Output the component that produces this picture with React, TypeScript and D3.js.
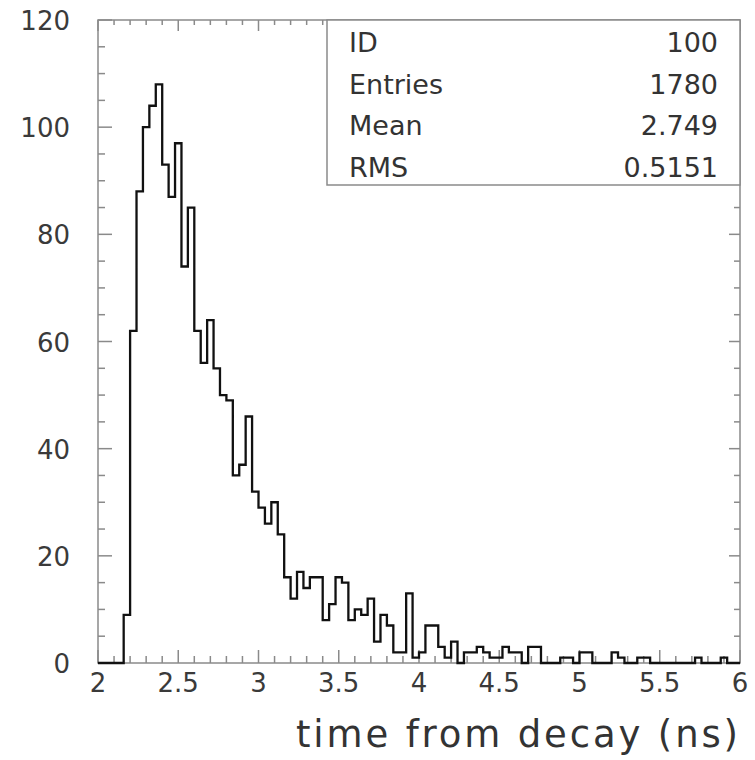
import React, { useEffect, useRef } from 'react';
import * as d3 from 'd3';

// histogram: 100 bins of 0.04 ns from 2 to 6
const binStart = 2;
const binWidth = 0.04;
const counts = [
  0, 0, 0, 0, 9, 62, 88, 100, 104, 108,
  93, 87, 97, 74, 85, 62, 56, 64, 55, 50,
  49, 35, 37, 46, 32, 29, 26, 30, 24, 16,
  12, 17, 14, 16, 16, 8, 11, 16, 15, 8,
  10, 9, 12, 4, 9, 7, 2, 2, 13, 1,
  2, 7, 7, 3, 1, 4, 0, 2, 2, 3,
  2, 1, 1, 3, 2, 2, 0, 3, 3, 0,
  0, 0, 1, 1, 0, 2, 2, 0, 0, 0,
  2, 1, 0, 0, 1, 1, 0, 0, 0, 0,
  0, 0, 0, 1, 0, 0, 0, 1, 0, 0,
];

const xMajorTicks = [2, 2.5, 3, 3.5, 4, 4.5, 5, 5.5, 6];
const yMajorTicks = [0, 20, 40, 60, 80, 100, 120];

const statLabels = ['ID', 'Entries', 'Mean', 'RMS'];
const statValues = ['100', '1780', '2.749', '0.5151'];

const xTitle = 'time from decay (ns)';

const App: React.FC = () => {
  const svgRef = useRef<SVGSVGElement>(null);

  useEffect(() => {
    if (!svgRef.current) return;
    d3.select(svgRef.current).selectAll('*').remove();

    const W = 755;
    const H = 760;
    const left = 98, right = 740, top = 20, bottom = 663;
    const frameColor = '#8a8a8a';
    const font = '"DejaVu Sans", sans-serif';

    const svg = d3.select(svgRef.current)
      .attr('width', W)
      .attr('height', H);

    const x = d3.scaleLinear().domain([2, 6]).range([left, right]);
    const y = d3.scaleLinear().domain([0, 120]).range([bottom, top]);

    // frame
    svg.append('rect')
      .attr('x', left)
      .attr('y', top)
      .attr('width', right - left)
      .attr('height', bottom - top)
      .attr('fill', 'none')
      .attr('stroke', frameColor)
      .attr('stroke-width', 1.5);

    // ticks on all four sides
    const xMinor = d3.range(0, 41).map(i => 2 + i * 0.1);
    const yMinor = d3.range(0, 25).map(i => i * 5);
    const isMajorX = (v: number) => Math.abs(v * 2 - Math.round(v * 2)) < 1e-6;
    const isMajorY = (v: number) => v % 20 === 0;

    const ticks = svg.append('g')
      .attr('stroke', frameColor)
      .attr('stroke-width', 1.5);

    xMinor.forEach(v => {
      const len = isMajorX(v) ? 13 : 7;
      ticks.append('line')
        .attr('x1', x(v)).attr('x2', x(v))
        .attr('y1', bottom).attr('y2', bottom - len);
      ticks.append('line')
        .attr('x1', x(v)).attr('x2', x(v))
        .attr('y1', top).attr('y2', top + (isMajorX(v) ? 11 : 5));
    });

    yMinor.forEach(v => {
      const len = isMajorY(v) ? 14 : 7;
      ticks.append('line')
        .attr('x1', left).attr('x2', left + len)
        .attr('y1', y(v)).attr('y2', y(v));
      ticks.append('line')
        .attr('x1', right).attr('x2', right - (isMajorY(v) ? 11 : 6))
        .attr('y1', y(v)).attr('y2', y(v));
    });

    // tick labels
    svg.append('g')
      .attr('font-family', font)
      .attr('font-size', 26)
      .attr('fill', '#3a3a3a')
      .attr('text-anchor', 'end')
      .selectAll('text')
      .data(yMajorTicks)
      .enter().append('text')
      .attr('x', 70)
      .attr('y', d => y(d) + 10)
      .text(d => d);

    svg.append('g')
      .attr('font-family', font)
      .attr('font-size', 26)
      .attr('fill', '#3a3a3a')
      .attr('text-anchor', 'middle')
      .selectAll('text')
      .data(xMajorTicks)
      .enter().append('text')
      .attr('x', d => x(d))
      .attr('y', 692)
      .text(d => d);

    // axis title
    svg.append('text')
      .attr('x', 738)
      .attr('y', 747)
      .attr('font-family', font)
      .attr('font-size', 37)
      .attr('fill', '#333')
      .attr('text-anchor', 'end')
      .attr('textLength', 442)
      .attr('lengthAdjust', 'spacing')
      .text(xTitle);

    // histogram outline
    const pts: [number, number][] = [[x(binStart), y(0)]];
    counts.forEach((c, i) => {
      const x0 = binStart + i * binWidth;
      pts.push([x(x0), y(c)]);
      pts.push([x(x0 + binWidth), y(c)]);
    });
    pts.push([x(binStart + counts.length * binWidth), y(0)]);

    svg.append('path')
      .attr('d', d3.line()(pts))
      .attr('fill', 'none')
      .attr('stroke', '#111')
      .attr('stroke-width', 2.3)
      .attr('stroke-linejoin', 'miter');

    // stats box
    const boxLeft = 327, boxBottom = 185;
    svg.append('rect')
      .attr('x', boxLeft)
      .attr('y', top)
      .attr('width', right - boxLeft)
      .attr('height', boxBottom - top)
      .attr('fill', 'white')
      .attr('stroke', frameColor)
      .attr('stroke-width', 1.5);

    const rowY = (i: number) => 52 + i * 41.7;
    const stats = svg.append('g')
      .attr('font-family', font)
      .attr('font-size', 27)
      .attr('fill', '#333');

    stats.selectAll('text.lab')
      .data(statLabels)
      .enter().append('text')
      .attr('class', 'lab')
      .attr('x', 349)
      .attr('y', (d, i) => rowY(i))
      .text(d => d);

    stats.selectAll('text.val')
      .data(statValues)
      .enter().append('text')
      .attr('class', 'val')
      .attr('x', 718)
      .attr('y', (d, i) => rowY(i))
      .attr('text-anchor', 'end')
      .text(d => d);
  }, []);

  return <svg ref={svgRef} style={{ position: 'absolute', left: 0, top: 0 }}></svg>;
};

export default App;
